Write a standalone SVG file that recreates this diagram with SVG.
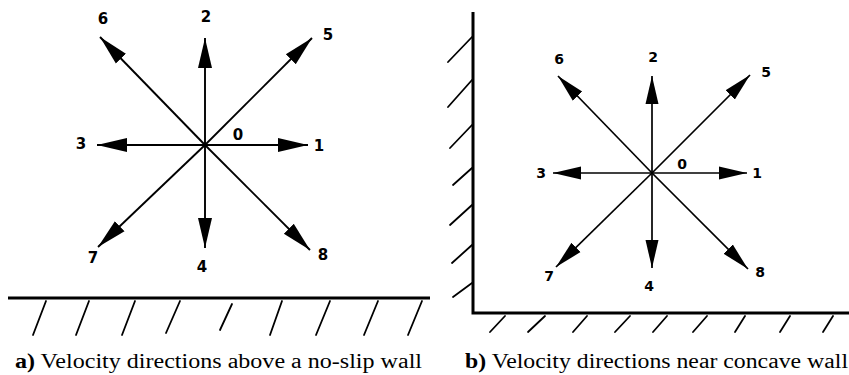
<svg xmlns="http://www.w3.org/2000/svg" width="849" height="375" viewBox="0 0 849 375">
<style>
.arr{stroke:#000;stroke-width:1.9;fill:none;marker-end:url(#ah)}
.arr2{stroke:#000;stroke-width:1.7;fill:none;marker-end:url(#ah2)}
.wall{stroke:#000;stroke-width:3;fill:none}
.hatch{stroke:#000;stroke-width:1.8;fill:none;stroke-linecap:round}
.lbl{font-family:"DejaVu Sans","Liberation Sans",sans-serif;font-weight:bold;font-size:15px;text-anchor:middle;dominant-baseline:central}
.lbl2{font-family:"DejaVu Sans","Liberation Sans",sans-serif;font-weight:bold;font-size:14px;text-anchor:middle;dominant-baseline:central}
.cap{font-family:"Liberation Serif","Times New Roman",serif;font-size:20px}
</style>
<defs>
<marker id="ah" markerUnits="userSpaceOnUse" markerWidth="32" markerHeight="16" refX="30" refY="8" orient="auto"><path d="M0,1 L30,8 L0,15 z" fill="#000"/></marker>
<marker id="ah2" markerUnits="userSpaceOnUse" markerWidth="30" markerHeight="16" refX="28" refY="8" orient="auto"><path d="M0,1.5 L28,8 L0,14.5 z" fill="#000"/></marker>
</defs>
<g id="connectors">
<line class="arr" x1="205" y1="145" x2="308" y2="145"/>
<line class="arr" x1="205" y1="145" x2="205" y2="38"/>
<line class="arr" x1="205" y1="145" x2="97" y2="145"/>
<line class="arr" x1="205" y1="145" x2="205" y2="248"/>
<line class="arr" x1="205" y1="145" x2="312" y2="38"/>
<line class="arr" x1="205" y1="145" x2="100" y2="37"/>
<line class="arr" x1="205" y1="145" x2="98" y2="247"/>
<line class="arr" x1="205" y1="145" x2="310" y2="250"/>
<line class="arr2" x1="652" y1="173" x2="747" y2="173"/>
<line class="arr2" x1="652" y1="173" x2="652" y2="76"/>
<line class="arr2" x1="652" y1="173" x2="553" y2="173"/>
<line class="arr2" x1="652" y1="173" x2="652" y2="268"/>
<line class="arr2" x1="652" y1="173" x2="750" y2="75"/>
<line class="arr2" x1="652" y1="173" x2="558" y2="76"/>
<line class="arr2" x1="652" y1="173" x2="556" y2="267"/>
<line class="arr2" x1="652" y1="173" x2="748" y2="269"/>
</g>
<g id="labels-a">
<text class="lbl" x="206" y="17">2</text>
<text class="lbl" x="103" y="19">6</text>
<text class="lbl" x="328" y="35">5</text>
<text class="lbl" x="81" y="144">3</text>
<text class="lbl" x="238" y="135">0</text>
<text class="lbl" x="319" y="146">1</text>
<text class="lbl" x="93" y="258">7</text>
<text class="lbl" x="202" y="267">4</text>
<text class="lbl" x="323" y="255">8</text>
</g>
<g id="labels-b">
<text class="lbl2" x="653" y="57">2</text>
<text class="lbl2" x="559" y="59">6</text>
<text class="lbl2" x="766" y="72">5</text>
<text class="lbl2" x="541" y="173">3</text>
<text class="lbl2" x="682" y="164">0</text>
<text class="lbl2" x="757" y="173">1</text>
<text class="lbl2" x="549" y="276">7</text>
<text class="lbl2" x="649" y="286">4</text>
<text class="lbl2" x="760" y="272">8</text>
</g>
<g id="wall-a">
<line class="wall" x1="8" y1="298" x2="430" y2="298"/>
<line class="hatch" x1="46" y1="301" x2="33" y2="335"/>
<line class="hatch" x1="89" y1="301" x2="76" y2="335"/>
<line class="hatch" x1="135" y1="301" x2="122" y2="335"/>
<line class="hatch" x1="180" y1="301" x2="166" y2="333"/>
<line class="hatch" x1="232" y1="304" x2="220" y2="330"/>
<line class="hatch" x1="282" y1="301" x2="270" y2="335"/>
<line class="hatch" x1="330" y1="301" x2="316" y2="335"/>
<line class="hatch" x1="378" y1="301" x2="364" y2="335"/>
<line class="hatch" x1="422" y1="301" x2="408" y2="335"/>
</g>
<g id="wall-b">
<path class="wall" d="M473,12 L473,313 L849,313"/>
<line class="hatch" x1="472" y1="37" x2="448" y2="62"/>
<line class="hatch" x1="472" y1="80" x2="448" y2="107"/>
<line class="hatch" x1="472" y1="125" x2="450" y2="148"/>
<line class="hatch" x1="472" y1="168" x2="453" y2="185"/>
<line class="hatch" x1="472" y1="205" x2="450" y2="225"/>
<line class="hatch" x1="472" y1="245" x2="452" y2="263"/>
<line class="hatch" x1="472" y1="283" x2="453" y2="297"/>
<line class="hatch" x1="505" y1="316" x2="490" y2="332"/>
<line class="hatch" x1="545" y1="316" x2="528" y2="332"/>
<line class="hatch" x1="587" y1="316" x2="573" y2="332"/>
<line class="hatch" x1="630" y1="316" x2="615" y2="332"/>
<line class="hatch" x1="667" y1="316" x2="653" y2="332"/>
<line class="hatch" x1="707" y1="316" x2="693" y2="332"/>
<line class="hatch" x1="745" y1="316" x2="735" y2="332"/>
<line class="hatch" x1="790" y1="316" x2="780" y2="332"/>
<line class="hatch" x1="833" y1="316" x2="823" y2="332"/>
</g>
<g id="captions">
<text class="cap" x="15" y="368" textLength="407" lengthAdjust="spacingAndGlyphs"><tspan font-weight="bold">a)</tspan> Velocity directions above a no-slip wall</text>
<text class="cap" x="465" y="368" textLength="383" lengthAdjust="spacingAndGlyphs"><tspan font-weight="bold">b)</tspan> Velocity directions near concave wall</text>
</g>
</svg>
